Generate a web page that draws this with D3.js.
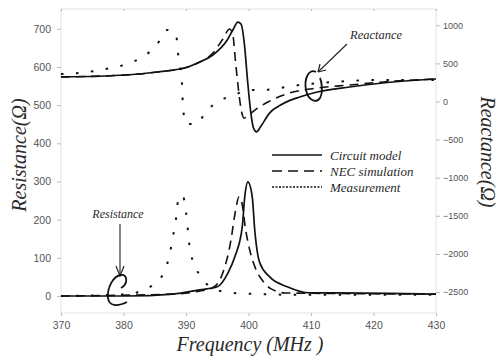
<!DOCTYPE html>
<html>
<head>
<meta charset="utf-8">
<script src="https://cdn.jsdelivr.net/npm/d3@7/dist/d3.min.js"></script>
<style>
  html, body { margin: 0; padding: 0; background: #fff; }
  svg { display: block; }
  .tick text { font-family: "Liberation Sans", Arial, sans-serif; fill: #555; }
  .serif { font-family: "Liberation Serif", "Times New Roman", serif; font-style: italic; fill: #2a2a2a; }
</style>
</head>
<body>
<svg id="chart" width="498" height="359"></svg>
<script>
// Axis ticks
const freqTicks = [370, 380, 390, 400, 410, 420, 430];
const resistanceTicks = [0, 100, 200, 300, 400, 500, 600, 700];
const reactanceTicks = [-2500, -2000, -1500, -1000, -500, 0, 500, 1000];

// Circuit model
const circuitRFreq = [370, 380.4, 387.9, 392.2, 395.0, 396.7, 397.8, 399.0, 399.4, 399.9, 400.6, 401.0, 401.8, 403.4, 406.2, 409.8, 413.5, 430];
const circuitR     = [0, 0, 5, 16, 24, 60, 102, 181, 260, 299, 260, 173, 87, 50, 24, 8, 8, 5];
const circuitXFreq = [370, 380.4, 385.4, 390.3, 392.2, 394.3, 396.6, 397.5, 398.3, 398.8, 399.36, 399.84, 400.32, 400.8, 401.3, 401.9, 403.4, 405.5, 408.2, 411, 416.2, 421.5, 430];
const circuitX     = [322, 348, 387, 453, 518, 610, 807, 938, 1043, 1017, 741, 282, -112, -348, -400, -335, -150, -30, 59, 125, 190, 243, 295];

// NEC simulation
const necRFreq = [370, 387.9, 392.2, 394.2, 395.4, 396.3, 397.2, 397.8, 398.5, 399.0, 399.5, 400.2, 401.1, 402.4, 403.7, 405.8, 430];
const necR     = [0, 5, 13, 21, 42, 81, 147, 212, 260, 239, 178, 120, 73, 37, 18, 8, 5];
const necXFreq = [370, 380.4, 385.4, 390.3, 392.2, 394.3, 395.8, 397.0, 397.5, 397.9, 398.4, 398.9, 399.3, 400.2, 401.5, 403.1, 406.6, 411, 416.2, 421.5, 430];
const necX     = [322, 348, 387, 453, 518, 636, 807, 951, 873, 545, 151, -138, -218, -164, -85, -7, 112, 177, 216, 256, 295];

// Measurement
const measRFreq = [370, 381, 383.4, 385.7, 386.6, 387.4, 387.9, 388.4, 388.7, 389.4, 390.0, 390.3, 390.6, 391.4, 392.6, 394.6, 397.4, 401.8, 408.2, 430];
const measR     = [0, 5, 18, 42, 66, 110, 155, 202, 246, 265, 220, 173, 126, 81, 45, 18, 8, 5, 3, 3];
const measXFreq = [370, 372.9, 375.3, 378, 380.6, 383, 385.2, 387, 388.4, 388.7, 389.4, 389.5, 390, 391.6, 393.4, 395.3, 397.7, 400.2, 402.3, 405, 408.2, 413.5, 416.2, 419.9, 422.6, 425.4, 430];
const measX     = [361, 374, 400, 440, 492, 584, 728, 938, 886, 650, 177, -59, -295, -295, -112, 7, 85, 151, 151, 177, 217, 256, 269, 282, 282, 282, 282];

const legendLabels = ["Circuit model", "NEC simulation", "Measurement"];

const svg = d3.select("#chart");
const plotLeft = 61, plotRight = 436, plotTop = 9, plotBottom = 313;

const x = d3.scaleLinear().domain([370, 430]).range([plotLeft, plotRight]);
const yR = d3.scaleLinear().domain([-44.6, 752]).range([plotBottom, plotTop]);
const yX = d3.scaleLinear().domain([-2776, 1214]).range([plotBottom, plotTop]);

// Frame
svg.append("rect")
  .attr("x", plotLeft).attr("y", plotTop)
  .attr("width", plotRight - plotLeft).attr("height", plotBottom - plotTop)
  .attr("fill", "none").attr("stroke", "#e2e2e2").attr("stroke-width", 1);

function styleAxis(g, size) {
  g.select(".domain").remove();
  g.selectAll(".tick line").attr("stroke", "#bbb");
  g.selectAll(".tick text").style("font-size", size + "px");
}

svg.append("g")
  .attr("transform", `translate(${plotLeft},0)`)
  .call(d3.axisLeft(yR).tickValues(resistanceTicks).tickSize(4).tickPadding(6).tickFormat(d3.format("d")))
  .call(g => styleAxis(g, 10.5));

svg.append("g")
  .attr("transform", `translate(${plotRight},0)`)
  .call(d3.axisRight(yX).tickValues(reactanceTicks).tickSize(4).tickPadding(3).tickFormat(d3.format("d")))
  .call(g => styleAxis(g, 9));

svg.append("g")
  .attr("transform", `translate(0,${plotBottom})`)
  .call(d3.axisBottom(x).tickValues(freqTicks).tickSize(3).tickPadding(6).tickFormat(d3.format("d")))
  .call(g => styleAxis(g, 10.5));

svg.append("g")
  .attr("transform", `translate(0,${plotTop})`)
  .call(d3.axisBottom(x).tickValues(freqTicks).tickSize(2).tickFormat(""))
  .call(g => styleAxis(g, 10));

// Curves
const series = [
  { f: circuitRFreq, v: circuitR, y: yR, dash: null, w: 1.7 },
  { f: circuitXFreq, v: circuitX, y: yX, dash: null, w: 1.7 },
  { f: necRFreq, v: necR, y: yR, dash: "9,6", w: 1.6 },
  { f: necXFreq, v: necX, y: yX, dash: "9,6", w: 1.6 },
  { f: measRFreq, v: measR, y: yR, dash: "2.5,12.5", w: 2 },
  { f: measXFreq, v: measX, y: yX, dash: "2.5,12.5", w: 2 }
];

series.forEach(s => {
  const pts = s.f.map((f, i) => [f, s.v[i]]);
  const line = d3.line()
    .x(d => x(d[0]))
    .y(d => s.y(d[1]))
    .curve(d3.curveMonotoneX);
  svg.append("path")
    .datum(pts)
    .attr("d", line)
    .attr("fill", "none")
    .attr("stroke", "#111")
    .attr("stroke-width", s.w)
    .attr("stroke-dasharray", s.dash);
});

// Legend
const legendDash = [null, "10,6", "2,1.5"];
legendLabels.forEach((label, i) => {
  const ly = 155 + i * 16;
  svg.append("line")
    .attr("x1", 272).attr("x2", 322).attr("y1", ly).attr("y2", ly)
    .attr("stroke", "#111").attr("stroke-width", i === 2 ? 1.6 : 1.5)
    .attr("stroke-dasharray", legendDash[i]);
  svg.append("text")
    .attr("class", "serif")
    .attr("x", 330).attr("y", ly + 4.5)
    .style("font-size", "13px")
    .text(label);
});

// Axis titles
svg.append("text")
  .attr("class", "serif")
  .attr("transform", "translate(26,155) rotate(-90)")
  .attr("text-anchor", "middle")
  .style("font-size", "20px")
  .text("Resistance(Ω)");

svg.append("text")
  .attr("class", "serif")
  .attr("transform", "translate(481,152) rotate(90)")
  .attr("text-anchor", "middle")
  .style("font-size", "20px")
  .text("Reactance(Ω)");

svg.append("text")
  .attr("class", "serif")
  .attr("x", 250).attr("y", 351)
  .attr("text-anchor", "middle")
  .style("font-size", "20px")
  .text("Frequency (MHz )");

// Annotations: reactance
svg.append("text")
  .attr("class", "serif")
  .attr("x", 350).attr("y", 39)
  .style("font-size", "12.5px")
  .text("Reactance");

svg.append("line")
  .attr("x1", 347).attr("y1", 44).attr("x2", 318).attr("y2", 72)
  .attr("stroke", "#222").attr("stroke-width", 1.1);
svg.append("path")
  .attr("d", "M318,72 L320,64 M318,72 L326,70")
  .attr("fill", "none").attr("stroke", "#222").attr("stroke-width", 1.2);
svg.append("path")
  .attr("d", "M316,72 C308,68 304,80 306,90 C308,100 316,104 320,98 C323,93 322,82 320,78")
  .attr("fill", "none").attr("stroke", "#111").attr("stroke-width", 1.8);

// Annotations: resistance
svg.append("text")
  .attr("class", "serif")
  .attr("x", 118).attr("y", 218)
  .attr("text-anchor", "middle")
  .style("font-size", "12px")
  .text("Resistance");

svg.append("line")
  .attr("x1", 120).attr("y1", 224).attr("x2", 120).attr("y2", 275)
  .attr("stroke", "#222").attr("stroke-width", 1.1);
svg.append("path")
  .attr("d", "M116,266 L120,276 L124,266")
  .attr("fill", "none").attr("stroke", "#222").attr("stroke-width", 1.2);
svg.append("path")
  .attr("d", "M121,288 C128,284 128,274 121,275 C113,276 107,288 108,298 C109,306 117,307 127,302")
  .attr("fill", "none").attr("stroke", "#111").attr("stroke-width", 1.8);
</script>
</body>
</html>
